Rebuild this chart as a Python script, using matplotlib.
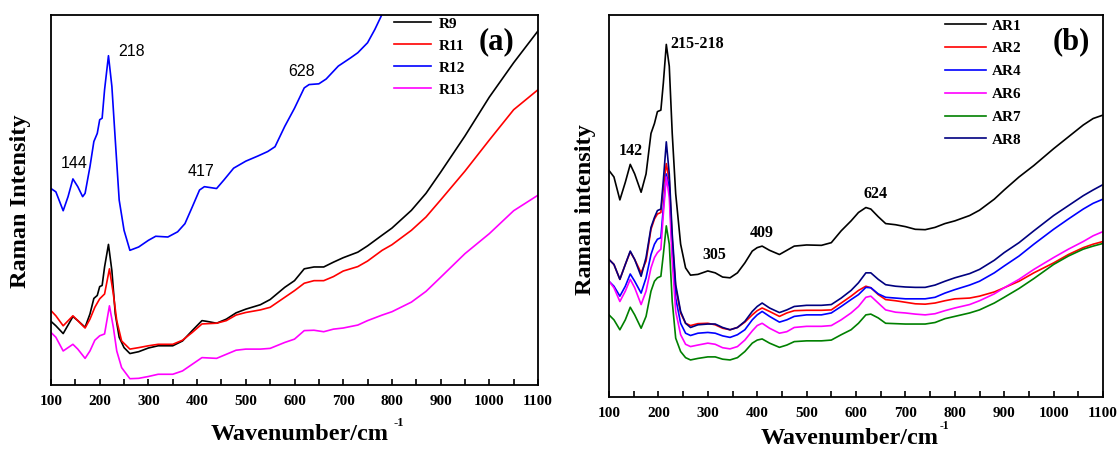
import matplotlib
matplotlib.use("Agg")
import matplotlib.pyplot as plt
from matplotlib.ticker import MultipleLocator

# ---------------- Panel (a) data ----------------
wn_a = [100, 110, 125, 145, 155, 170, 180, 188, 195, 200, 205, 210, 218, 225, 232, 240, 250, 262,
        280, 300, 320, 350, 370, 390, 410, 420, 440, 460, 480, 500, 530, 550, 580, 600, 620, 640,
        660, 680, 700, 730, 750, 780, 800, 840, 870, 900, 950, 1000, 1050, 1100]
r9 = [17.2, 16.0, 13.9, 18.5, 17.4, 15.6, 19.2, 23.4, 24.2, 26.6, 26.9, 31.9, 38.0, 30.9, 19.2, 12.9,
      10.1, 8.5, 9.0, 10.0, 10.6, 10.6, 11.9, 14.7, 17.4, 17.2, 16.7, 17.8, 19.5, 20.5, 21.7, 23.1,
      26.4, 28.2, 31.4, 31.9, 31.9, 33.2, 34.4, 35.9, 37.6, 40.5, 42.4, 47.2, 51.8, 57.5, 67.3, 77.8,
      87.1, 95.7]
wn_a2 = [100, 110, 125, 145, 155, 170, 180, 190, 200, 210, 220, 228, 235, 245, 262, 280, 300, 320,
         350, 370, 390, 410, 440, 460, 480, 500, 530, 550, 580, 600, 620, 640, 660, 680, 700, 730,
         750, 780, 800, 840, 870, 900, 950, 1000, 1050, 1100]
r11 = [20.1, 18.7, 16.0, 18.7, 17.4, 15.4, 17.8, 21.0, 23.3, 24.6, 31.4, 24.6, 17.4, 11.9, 9.7, 10.1,
       10.6, 11.0, 11.0, 12.1, 14.2, 16.5, 16.7, 17.4, 18.9, 19.6, 20.3, 21.0, 23.7, 25.5, 27.5, 28.2,
       28.2, 29.3, 30.8, 32.0, 33.5, 36.4, 37.9, 41.8, 45.4, 50.0, 57.8, 66.2, 74.4, 79.8]
r13 = [14.2, 12.9, 9.2, 11.0, 9.7, 7.2, 9.2, 12.1, 13.3, 13.8, 21.4, 15.6, 9.2, 4.7, 1.7, 1.8, 2.3,
       2.9, 2.9, 3.8, 5.6, 7.4, 7.2, 8.3, 9.4, 9.7, 9.7, 9.9, 11.5, 12.4, 14.7, 14.8, 14.4, 15.1, 15.4,
       16.2, 17.4, 18.9, 19.8, 22.4, 25.3, 29.1, 35.5, 40.9, 47.1, 51.3]
wn_r12 = [100, 110, 125, 135, 145, 155, 165, 170, 180, 188, 195, 200, 205, 210, 218, 225, 232, 240,
          250, 262, 280, 300, 315, 340, 360, 375, 390, 405, 415, 440, 455, 475, 500, 525, 545, 560,
          580, 600, 620, 630, 650, 665, 690, 715, 730, 750, 765, 778, 790]
r12 = [53.1, 52.2, 47.1, 50.9, 55.7, 53.6, 50.9, 51.8, 59.0, 65.8, 68.0, 71.7, 72.1, 79.8, 89.0, 80.7,
       66.2, 50.0, 41.8, 36.4, 37.3, 39.1, 40.2, 40.0, 41.4, 43.6, 48.1, 52.7, 53.6, 53.1, 55.4, 58.6,
       60.5, 61.9, 63.1, 64.4, 69.9, 74.8, 80.3, 81.2, 81.4, 82.7, 86.2, 88.4, 89.8, 92.5, 96.1, 99.7,
       104.0]
peaks_a = ["144", "218", "417", "628"]
peaks_a_xy = [(148, 59.9), (265, 90.2), (408, 57.6), (614, 84.8)]

# ---------------- Panel (b) data ----------------
wn_b = [100, 110, 122, 133, 143, 152, 165, 175, 185, 192, 198, 205, 210, 216, 222, 228, 235, 245, 255,
        265, 280, 300, 315, 330, 345, 360, 375, 390, 400, 410, 425, 445, 460, 475, 500, 530, 550, 570,
        590, 605, 620, 630, 645, 660, 680, 700, 720, 740, 760, 780, 800, 830, 850, 880, 900, 930, 960,
        1000, 1030, 1060, 1080, 1100]
ar1 = [59.3, 57.6, 51.6, 56.2, 60.9, 58.4, 53.6, 58.4, 69.0, 71.6, 74.7, 75.1, 82.2, 92.3, 86.6, 69.0,
       53.2, 40.0, 33.8, 31.9, 32.1, 33.0, 32.5, 31.4, 31.2, 32.5, 35.1, 38.2, 39.1, 39.5, 38.4, 37.3,
       38.4, 39.5, 39.8, 39.7, 40.4, 43.5, 46.1, 48.3, 49.6, 49.2, 47.2, 45.4, 45.1, 44.6, 43.9, 43.8,
       44.4, 45.4, 46.1, 47.5, 48.9, 51.8, 54.2, 57.6, 60.6, 65.0, 68.1, 71.2, 72.9, 73.8]
ar2 = [36.0, 34.7, 30.8, 34.7, 38.0, 36.0, 32.5, 35.6, 43.9, 46.6, 47.9, 48.3, 54.9, 61.1, 56.7, 40.9,
       28.6, 22.0, 19.3, 18.7, 19.2, 19.3, 18.9, 18.0, 17.6, 18.2, 19.6, 21.5, 22.6, 23.3, 22.4, 21.1,
       22.0, 22.6, 22.7, 22.7, 22.8, 24.6, 26.4, 27.9, 29.0, 28.6, 26.8, 25.5, 25.2, 24.8, 24.4, 24.3,
       24.6, 25.2, 25.7, 25.9, 26.4, 27.5, 28.6, 30.3, 32.5, 35.1, 37.3, 39.1, 40.0, 40.7]
ar4 = [30.3, 29.0, 26.4, 29.0, 32.2, 30.3, 27.2, 31.2, 37.3, 40.0, 41.3, 41.7, 49.6, 58.4, 54.9, 38.2,
       25.9, 19.3, 16.7, 16.1, 16.7, 16.9, 16.7, 16.0, 15.6, 16.3, 17.6, 20.2, 21.5, 22.4, 21.1, 19.6,
       20.2, 21.1, 21.5, 21.5, 22.0, 23.7, 25.5, 26.8, 28.7, 28.6, 27.0, 26.1, 25.9, 25.7, 25.7, 25.7,
       26.1, 27.2, 28.1, 29.3, 30.3, 32.5, 34.3, 36.9, 40.0, 43.9, 46.6, 49.2, 50.7, 51.8]
ar6 = [30.3, 28.6, 25.0, 27.7, 30.8, 28.6, 24.2, 27.7, 33.8, 36.5, 37.8, 38.7, 47.9, 57.6, 52.3, 35.6,
       22.4, 16.3, 13.8, 13.2, 13.6, 14.1, 13.8, 12.9, 12.6, 13.2, 14.9, 17.3, 18.7, 19.3, 18.0, 16.7,
       17.1, 18.2, 18.5, 18.5, 18.7, 20.2, 22.0, 23.7, 26.1, 26.4, 24.6, 22.8, 22.2, 22.0, 21.7, 21.5,
       21.8, 22.6, 23.3, 24.2, 25.2, 27.0, 28.6, 30.8, 33.4, 36.5, 38.7, 40.7, 42.2, 43.3]
ar7 = [21.5, 20.2, 17.6, 20.2, 23.5, 21.5, 18.0, 21.1, 27.7, 30.3, 31.2, 31.6, 37.3, 44.8, 40.0, 25.0,
       15.4, 11.9, 10.3, 9.7, 10.1, 10.5, 10.5, 9.9, 9.7, 10.3, 11.9, 14.1, 14.9, 15.2, 14.1, 13.0,
       13.6, 14.5, 14.7, 14.7, 14.9, 16.3, 17.6, 19.3, 21.5, 21.7, 20.7, 19.3, 19.2, 19.1, 19.1, 19.1,
       19.5, 20.5, 21.1, 22.0, 22.8, 24.6, 26.1, 28.4, 31.0, 34.7, 36.9, 38.7, 39.5, 40.2]
ar8 = [36.0, 34.7, 30.8, 34.7, 38.2, 36.0, 31.6, 36.5, 44.4, 47.0, 48.8, 49.2, 56.7, 66.8, 58.4, 42.6,
       29.4, 22.4, 19.3, 18.2, 18.9, 19.1, 19.1, 18.2, 17.6, 18.2, 19.8, 22.4, 23.7, 24.6, 23.3, 22.1,
       22.8, 23.7, 24.0, 24.0, 24.2, 25.9, 27.9, 29.9, 32.5, 32.5, 30.8, 29.4, 29.0, 28.8, 28.7, 28.7,
       29.3, 30.3, 31.2, 32.3, 33.4, 35.8, 37.8, 40.4, 43.5, 47.5, 50.1, 52.7, 54.2, 55.6]
peaks_b = ["142", "215-218", "305", "409", "624"]
peaks_b_xy = [(145, 64.4), (278, 92.5), (314, 37.2), (410, 43.0), (640, 53.2)]

x_ticks = list(range(100, 1101, 100))

SERIF = "Liberation Serif"

fig = plt.figure(figsize=(11.2, 4.5), dpi=100)
ax_a = fig.add_axes([51 / 1120, 65 / 450, 487 / 1120, 370 / 450])
ax_b = fig.add_axes([609 / 1120, 53 / 450, 494 / 1120, 382 / 450])

lw = 1.2
ax_a.plot(wn_a, r9, color="black", lw=lw, label="R9")
ax_a.plot(wn_a2, r11, color="#ff0000", lw=lw, label="R11")
ax_a.plot(wn_r12, r12, color="#0000ff", lw=lw, label="R12")
ax_a.plot(wn_a2, r13, color="#ff00ff", lw=lw, label="R13")

ax_b.plot(wn_b, ar1, color="black", lw=lw, label="AR1")
ax_b.plot(wn_b, ar2, color="#ff0000", lw=lw, label="AR2")
ax_b.plot(wn_b, ar4, color="#0000ff", lw=lw, label="AR4")
ax_b.plot(wn_b, ar6, color="#ff00ff", lw=lw, label="AR6")
ax_b.plot(wn_b, ar7, color="#008000", lw=lw, label="AR7")
ax_b.plot(wn_b, ar8, color="#000080", lw=lw, label="AR8")

for ax, pad in ((ax_a, 7), (ax_b, 7)):
    ax.set_xlim(100, 1100)
    ax.set_ylim(0, 100)
    ax.set_xticks(x_ticks)
    ax.xaxis.set_minor_locator(MultipleLocator(50))
    ax.tick_params(axis="x", which="both", direction="in", length=4, width=1.2, pad=pad,
                   labelsize=11)
    ax.set_yticks([])
    for lab in ax.get_xticklabels():
        lab.set_fontfamily(SERIF)
        lab.set_fontweight("bold")
    for s in ax.spines.values():
        s.set_linewidth(1.3)

# Peak labels
for t, (x, y) in zip(peaks_a, peaks_a_xy):
    ax_a.text(x, y, t, family="Liberation Sans", fontsize=11.5, ha="center", va="center")
for t, (x, y) in zip(peaks_b, peaks_b_xy):
    ax_b.text(x, y, t, family=SERIF, fontweight="bold", fontsize=11.5, ha="center", va="center")

# Legends
leg_a = ax_a.legend(loc="upper left", bbox_to_anchor=(0.705, 0.995), frameon=False,
                    prop={"family": SERIF, "weight": "bold", "size": 11},
                    handlelength=2.4, handletextpad=0.5, labelspacing=0.55,
                    borderpad=0, borderaxespad=0)
leg_b = ax_b.legend(loc="upper left", bbox_to_anchor=(0.68, 0.99), frameon=False,
                    prop={"family": SERIF, "weight": "bold", "size": 11},
                    handlelength=2.7, handletextpad=0.4, labelspacing=0.6,
                    borderpad=0, borderaxespad=0)

# Panel letters
fig.text(497 / 1120, 1 - 42 / 450, "(a)", family=SERIF, fontweight="bold", fontsize=22,
         ha="center", va="center")
fig.text(1071 / 1120, 1 - 42 / 450, "(b)", family=SERIF, fontweight="bold", fontsize=22,
         ha="center", va="center")

# Axis labels
fig.text(300 / 1120, 1 - 435 / 450, "Wavenumber/cm", family=SERIF, fontweight="bold",
         fontsize=17.5, ha="center", va="center")
fig.text(393 / 1120, 1 - 423 / 450, "-1", family=SERIF, fontweight="bold",
         fontsize=9, ha="left", va="center")
fig.text(850 / 1120, 1 - 438 / 450, "Wavenumber/cm", family=SERIF, fontweight="bold",
         fontsize=17.5, ha="center", va="center")
fig.text(940 / 1120, 1 - 426 / 450, "-1", family=SERIF, fontweight="bold",
         fontsize=8.5, ha="left", va="center")
fig.text(21 / 1120, 1 - 201 / 450, "Raman Intensity", family=SERIF, fontweight="bold",
         fontsize=17.5, ha="center", va="center", rotation=90)
fig.text(585 / 1120, 1 - 210 / 450, "Raman intensity", family=SERIF, fontweight="bold",
         fontsize=17.5, ha="center", va="center", rotation=90)

fig.savefig("out.png", dpi=100)
